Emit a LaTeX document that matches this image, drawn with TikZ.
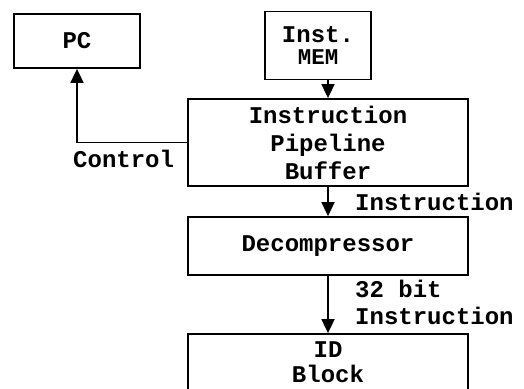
\documentclass[tikz,border=0pt]{standalone}
\usepackage{fontspec}
\setmainfont{Liberation Mono}
\usetikzlibrary{arrows.meta}
\tikzset{
  blk/.style={draw, line width=1.8pt, inner sep=0pt, align=center, font=\bfseries\fontsize{24}{28}\selectfont},
  lbl/.style={inner sep=0pt, font=\bfseries\fontsize{24}{28}\selectfont},
  arr/.style={line width=1.8pt, -{Triangle[width=13pt,length=14pt]}},
}
\begin{document}
\begin{tikzpicture}[x=1pt,y=-1pt]
\clip (0,0) rectangle (524,388);
\fill[white] (0,0) rectangle (524,388);
\node[blk, minimum width=126pt, minimum height=54pt] (pc) at (77,41) {PC};
\node[blk, minimum width=106pt, minimum height=68pt, font=\bfseries\fontsize{24}{22}\selectfont] (mem) at (318,45.5) {Inst.\\{\fontsize{22.5}{22}\selectfont MEM}};
\node[blk, minimum width=280pt, minimum height=87pt] (ipb) at (328,142.5) {Instruction\\Pipeline\\Buffer};
\node[blk, minimum width=280pt, minimum height=58pt] (dec) at (328,246) {Decompressor};
\node[blk, minimum width=280pt, minimum height=57pt, font=\bfseries\fontsize{24}{25}\selectfont] (id) at (328,362.5) {ID\\Block};
\draw[arr] (ipb.north |- mem.south) -- (ipb.north);
\draw[arr] (ipb.west) -| (pc.south);
\draw[arr] (ipb.south) -- (dec.north);
\draw[arr] (dec.south) -- (id.north);
\node[lbl, anchor=west] (ctl) at (73,159) {Control};
\node[lbl, anchor=west] (ins1) at (355,202) {Instruction};
\node[lbl, anchor=west] (bit) at (355,289) {32 bit};
\node[lbl, anchor=west] (ins2) at (355,316) {Instruction};
\end{tikzpicture}
\end{document}
